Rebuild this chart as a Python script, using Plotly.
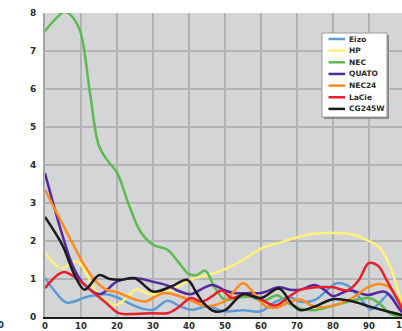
import plotly.graph_objects as go

# ---- data -------------------------------------------------------------
x_ticks = [0, 10, 20, 30, 40, 50, 60, 70, 80, 90]
y_ticks = [0, 1, 2, 3, 4, 5, 6, 7, 8]

eizo_x = [0, 3, 6, 12, 17, 20, 23, 26, 30, 34, 37.5, 41, 45, 50, 55, 60, 64, 68, 71, 75, 81, 84, 87.5, 90.5, 93, 95.5, 98, 100]
eizo_y = [1.03, 0.65, 0.38, 0.54, 0.6, 0.52, 0.38, 0.25, 0.19, 0.43, 0.28, 0.19, 0.28, 0.15, 0.18, 0.15, 0.4, 0.52, 0.4, 0.45, 0.89, 0.83, 0.5, 0.2, 0.38, 0.6, 0.3, 0.1]

hp_x = [0, 4.5, 9, 14, 17, 20, 23, 25.5, 29, 33, 37, 40, 45, 50, 55, 60, 65, 70, 75, 80, 85, 90, 93, 96, 98, 100]
hp_y = [1.7, 1.28, 1.46, 0.7, 0.42, 0.32, 0.55, 0.73, 0.6, 0.63, 0.8, 0.97, 1.1, 1.26, 1.5, 1.8, 1.95, 2.1, 2.2, 2.21, 2.18, 2.0, 1.82, 1.3, 0.7, 0.1]

nec_x = [0, 3, 5.5, 8, 10, 12.5, 15, 17.5, 20, 23.5, 26.5, 30, 34, 37, 40, 42, 44.5, 47, 50, 53, 57, 60.5, 64.5, 67, 71, 75, 80, 85, 90, 93, 96, 100]
nec_y = [7.52, 7.85, 8.03, 7.85, 7.45, 5.9, 4.5, 4.1, 3.8, 2.9, 2.25, 1.9, 1.77, 1.45, 1.13, 1.1, 1.22, 0.8, 0.45, 0.5, 0.53, 0.42, 0.57, 0.4, 0.22, 0.18, 0.3, 0.42, 0.5, 0.35, 0.08, 0.0]

quato_x = [0, 5, 7.8, 10.5, 15.2, 20, 25, 30, 34, 37.5, 40.5, 44, 46.5, 50, 52.5, 57, 60, 65, 68, 71, 75, 77.5, 80, 84.6, 89.5, 94.5, 98.5, 100]
quato_y = [3.78, 2.1, 1.33, 0.9, 0.6, 0.93, 1.02, 0.93, 0.83, 0.67, 0.6, 0.76, 0.84, 0.7, 0.63, 0.63, 0.63, 0.78, 0.72, 0.72, 0.84, 0.72, 0.55, 0.7, 0.58, 0.66, 0.2, 0.05]

nec24_x = [0, 6.5, 11, 14, 17, 20, 25, 28, 30, 33, 37, 42, 45, 50, 55, 58, 61, 64, 68, 71, 75, 80, 85, 90, 93, 96, 100]
nec24_y = [3.35, 2.15, 1.35, 0.95, 0.72, 0.65, 0.46, 0.41, 0.5, 0.63, 0.56, 0.37, 0.28, 0.42, 0.89, 0.63, 0.3, 0.24, 0.4, 0.46, 0.26, 0.3, 0.48, 0.8, 0.87, 0.75, 0.1]

lacie_x = [0, 5, 9, 12.5, 17, 20.5, 25, 30, 34, 37, 40.5, 43.5, 46.5, 49, 52, 55.5, 60, 64, 68, 71, 75, 80, 84, 87, 90, 92.5, 95, 100]
lacie_y = [0.76, 1.18, 1.0, 0.72, 0.37, 0.1, 0.08, 0.1, 0.1, 0.25, 0.5, 0.4, 0.55, 0.7, 0.5, 0.6, 0.46, 0.3, 0.55, 0.72, 0.78, 0.78, 0.7, 0.95, 1.42, 1.35, 0.95, 0.08]

cg245w_x = [0, 5, 8, 11, 15, 18, 21, 25, 30, 35, 39.5, 42, 44, 47, 50, 55, 60, 65, 68.5, 71, 75, 80, 85, 90, 95, 100]
cg245w_y = [2.63, 1.86, 1.15, 0.72, 1.1, 1.0, 0.98, 1.02, 0.67, 0.8, 0.98, 0.65, 0.37, 0.15, 0.18, 0.6, 0.5, 0.75, 0.35, 0.18, 0.28, 0.47, 0.42, 0.28, 0.15, 0.03]

series = [
    ("Eizo", eizo_x, eizo_y, "#5b9bd5"),
    ("HP", hp_x, hp_y, "#fff27a"),
    ("NEC", nec_x, nec_y, "#5cba4e"),
    ("QUATO", quato_x, quato_y, "#55289e"),
    ("NEC24", nec24_x, nec24_y, "#ff8c1a"),
    ("LaCie", lacie_x, lacie_y, "#e8202a"),
    ("CG245W", cg245w_x, cg245w_y, "#1b1b1b"),
]

# ---- geometry ---------------------------------------------------------
W, H = 402, 331
ML, MR, MT, MB = 45, 0, 13, 14
PW, PH = W - ML - MR, H - MT - MB
PX_PER_UNIT = 3.6                      # horizontal scale of the x axis
X_MAX = PW / PX_PER_UNIT               # visible part of the 0..100 axis


def px_x(px):
    return (px - ML) / PW


def px_y(py):
    return (H - MB - py) / PH


bold = dict(family="DejaVu Sans", size=9, color="#2b2b2b", weight="bold")
bold_x = dict(bold, size=8.5)

fig = go.Figure()
for name, xs, ys, color in series:
    fig.add_trace(go.Scatter(
        x=xs, y=ys, mode="lines", name=name, showlegend=False,
        line=dict(color=color, width=2.5, shape="spline", smoothing=1.0),
        hoverinfo="skip",
    ))

shapes = []
annotations = []

# hand-built legend box with a drop shadow
lx0, lx1, ly0, ly1 = 322, 387, 33, 117
shapes.append(dict(type="rect", xref="paper", yref="paper",
                   x0=px_x(lx0 + 2), x1=px_x(lx1 + 2), y0=px_y(ly1 + 2), y1=px_y(ly0 + 2),
                   fillcolor="#8a8a8a", line=dict(width=0), layer="above"))
shapes.append(dict(type="rect", xref="paper", yref="paper",
                   x0=px_x(lx0), x1=px_x(lx1), y0=px_y(ly1), y1=px_y(ly0),
                   fillcolor="white", line=dict(color="#9a9a9a", width=1), layer="above"))
row_y0, row_step = 39, 11.65
for i, (name, _, _, color) in enumerate(series):
    ry = row_y0 + i * row_step
    shapes.append(dict(type="line", xref="paper", yref="paper",
                       x0=px_x(328.5), x1=px_x(345), y0=px_y(ry), y1=px_y(ry),
                       line=dict(color=color, width=2.5), layer="above"))
    annotations.append(dict(xref="paper", yref="paper", x=px_x(347), y=px_y(ry),
                            xanchor="left", yanchor="middle", text=name, showarrow=False,
                            font=dict(family="DejaVu Sans", size=7.5, color="#2b2b2b", weight="bold")))

# last x tick label sits past the right edge of the page
annotations.append(dict(xref="paper", yref="paper", x=px_x(45 + 100 * PX_PER_UNIT), y=0,
                        yshift=-1, xanchor="center", yanchor="top", text="100",
                        showarrow=False, font=bold_x))
annotations.append(dict(xref="paper", yref="paper", x=px_x(1), y=0,
                        yshift=-1, xanchor="center", yanchor="top", text="0",
                        showarrow=False, font=bold_x))

fig.update_layout(
    width=W, height=H,
    margin=dict(l=ML, r=MR, t=MT, b=MB, pad=0),
    paper_bgcolor="white",
    plot_bgcolor="#d4d5d7",
    showlegend=False,
    shapes=shapes,
    annotations=annotations,
    xaxis=dict(range=[0, X_MAX], tickvals=x_ticks, ticktext=[str(v) for v in x_ticks],
               showgrid=True, gridcolor="#b2b3b5", gridwidth=1.5, zeroline=False,
               showline=True, linecolor="#1b1b1b", linewidth=2,
               ticks="", tickfont=bold_x, automargin=False, fixedrange=True),
    yaxis=dict(range=[0, 8], tickvals=y_ticks, ticktext=[str(v) for v in y_ticks],
               showgrid=True, gridcolor="#b2b3b5", gridwidth=1.5, zeroline=False,
               showline=True, linecolor="#a4a5a7", linewidth=2,
               ticks="outside", ticklen=5, tickcolor="rgba(0,0,0,0)",
               tickfont=bold, automargin=False, fixedrange=True),
)

fig.write_html("out.html", config={"displayModeBar": False})
